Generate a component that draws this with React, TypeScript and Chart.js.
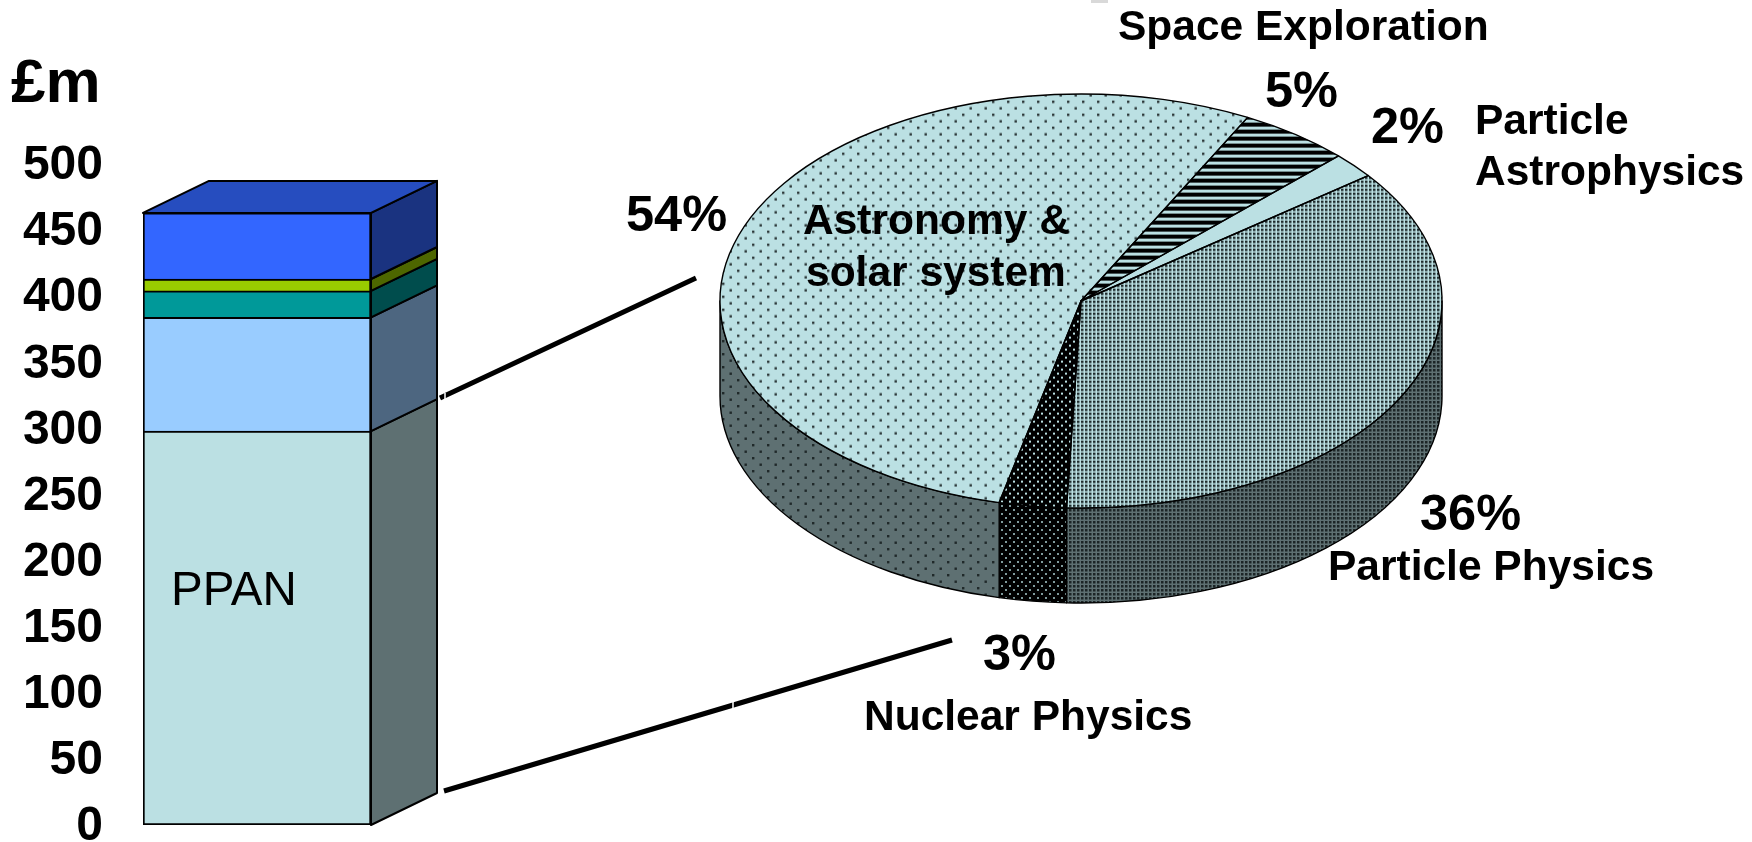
import React, { useEffect, useRef } from "react";
import { Chart, registerables } from "chart.js";

Chart.register(...registerables);

const W = 1752;
const H = 842;
const FONT = '"Liberation Sans", Arial, sans-serif';

// ---- stacked column data (£m) ----
const barCategories = ["PPAN"];
const ppanValues = [298];
const lightBlueValues = [86];
const tealValues = [20];
const limeValues = [9];
const blueValues = [50];
const segmentColors = ["#BBE0E3", "#99CCFF", "#009999", "#99CC00", "#3366FF"];
const yTickStep = 50;
const yMax = 500;

// ---- pie data (%) ----
const sliceNames = ["Space Exploration", "Particle Astrophysics", "Particle Physics", "Nuclear Physics", "Astronomy & solar system"];
const slicePercents = [5, 2, 36, 3, 54];

const shade = (hex: string, f: number) => {
  const n = parseInt(hex.slice(1), 16);
  const c = [(n >> 16) & 255, (n >> 8) & 255, n & 255].map((v) => Math.round(v * f));
  return `rgb(${c[0]},${c[1]},${c[2]})`;
};

function tile(w: number, h: number, bg: string, draw: (c: CanvasRenderingContext2D) => void, yScale = 1) {
  const cv = document.createElement("canvas");
  cv.width = w;
  cv.height = h;
  const c = cv.getContext("2d")!;
  c.fillStyle = bg;
  c.fillRect(0, 0, w, h);
  draw(c);
  const p = c.createPattern(cv, "repeat")!;
  if (yScale !== 1) p.setTransform(new DOMMatrix([1, 0, 0, yScale, 0, 0]));
  return p;
}

const dot = (c: CanvasRenderingContext2D, x: number, y: number, s: number, col: string) => {
  c.fillStyle = col;
  c.fillRect(x, y, s, s);
};

function patterns(bg: string, yScale: number, isWall: boolean) {
  const ink = isWall ? "#20292a" : "#2b3637";
  const sparse = tile(15, 13, bg, (c) => {
    dot(c, 2, 2, 2.4, ink);
    dot(c, 9.5, 8.5, 2.4, ink);
  }, yScale);
  const dense = tile(4, 4, bg, (c) => dot(c, 1, 1, 2.5, isWall ? "#1c2526" : "#1f2b2c"), yScale);
  const holes = tile(8, 8, "#000000", (c) => {
    dot(c, 1, 1, 2, isWall ? "#7f9a9c" : bg);
    dot(c, 5, 5, 2, isWall ? "#7f9a9c" : bg);
  }, yScale);
  const stripes = tile(8, 7, bg, (c) => {
    c.fillStyle = "#000";
    c.fillRect(0, 0, 8, 4);
  }, yScale);
  return { sparse, dense, holes, stripes };
}

export default function App() {
  const barRef = useRef<HTMLCanvasElement>(null);
  const pieRef = useRef<HTMLCanvasElement>(null);

  useEffect(() => {
    document.body.style.margin = "0";

    const DX = 66;
    const DY = 32;
    const seriesValues = [ppanValues, lightBlueValues, tealValues, limeValues, blueValues];

    const boxPlugin = {
      id: "box3d",
      beforeDatasetsDraw(chart: any) {
        const ctx = chart.ctx;
        ctx.save();
        ctx.lineWidth = 2;
        ctx.strokeStyle = "#000";
        ctx.lineJoin = "round";
        const n = chart.data.datasets.length;
        for (let i = 0; i < n; i++) {
          const el = chart.getDatasetMeta(i).data[0];
          const right = el.x + el.width / 2;
          const left = el.x - el.width / 2;
          ctx.beginPath();
          ctx.moveTo(right, el.y);
          ctx.lineTo(right + DX, el.y - DY);
          ctx.lineTo(right + DX, el.base - DY);
          ctx.lineTo(right, el.base);
          ctx.closePath();
          ctx.fillStyle = shade(segmentColors[i], 0.5);
          ctx.fill();
          ctx.stroke();
          if (i === n - 1) {
            ctx.beginPath();
            ctx.moveTo(left, el.y);
            ctx.lineTo(left + DX, el.y - DY);
            ctx.lineTo(right + DX, el.y - DY);
            ctx.lineTo(right, el.y);
            ctx.closePath();
            ctx.fillStyle = shade(segmentColors[i], 0.75);
            ctx.fill();
            ctx.stroke();
          }
        }
        ctx.restore();
      },
      afterDraw(chart: any) {
        const ctx = chart.ctx;
        ctx.save();
        ctx.fillStyle = "#000";
        ctx.textBaseline = "alphabetic";
        ctx.textAlign = "left";
        ctx.font = `bold 62px ${FONT}`;
        ctx.fillText("£m", 11, 102);
        ctx.font = `47.5px ${FONT}`;
        ctx.fillText(barCategories[0], 171, 605);
        // leader lines
        ctx.strokeStyle = "#000";
        ctx.lineWidth = 5;
        ctx.beginPath();
        ctx.moveTo(440, 398);
        ctx.lineTo(696, 278);
        ctx.moveTo(444, 791);
        ctx.lineTo(952, 640);
        ctx.stroke();
        ctx.strokeStyle = "#fff";
        ctx.lineWidth = 1.5;
        ctx.beginPath();
        ctx.moveTo(445, 393);
        ctx.lineTo(445, 400);
        ctx.moveTo(733, 702);
        ctx.lineTo(733, 710);
        ctx.stroke();
        ctx.restore();
      },
    };

    const barChart = new Chart(barRef.current!, {
      type: "bar",
      data: {
        labels: barCategories,
        datasets: seriesValues.map((v, i) => ({
          label: i === 0 ? barCategories[0] : `Segment ${i + 1}`,
          data: v,
          backgroundColor: segmentColors[i],
          borderColor: "#000",
          borderSkipped: false,
          borderWidth: { top: 2, left: 2, right: 2, bottom: i === 0 ? 2 : 0 },
          barPercentage: 1,
          categoryPercentage: 1,
        })),
      },
      options: {
        animation: false,
        responsive: false,
        layout: { padding: { left: 0, right: W - 371, top: 164, bottom: H - 825 } },
        plugins: { legend: { display: false }, tooltip: { enabled: false } },
        scales: {
          x: { stacked: true, display: false },
          y: {
            stacked: true,
            min: 0,
            max: yMax,
            grid: { display: false, drawTicks: false },
            border: { display: false },
            ticks: {
              stepSize: yTickStep,
              color: "#000",
              padding: 40,
              labelOffset: 2,
              font: { family: FONT, weight: "bold", size: 48 },
            },
            afterFit: (s: any) => {
              s.width = 143;
              s.paddingTop = 0;
              s.paddingBottom = 0;
            },
          },
        },
      },
      plugins: [boxPlugin],
    } as any);

    // ---- pie ----
    const TARGET_CY = 301;
    const RY = 207;
    const RX = 361;
    const DEPTH = 95;
    const K = RY / RX;
    const base = "#BBE0E3";
    const wallBase = shade(base, 0.5);
    const topP = patterns(base, 1 / K, false);
    const wallP = patterns(wallBase, 1, true);
    const topFill = [topP.stripes, base, topP.dense, topP.holes, topP.sparse];
    const wallFill = [wallP.stripes, wallBase, wallP.dense, wallP.holes, wallP.sparse];

    const piePlugin = {
      id: "pie3d",
      beforeDatasetsDraw(chart: any) {
        const ctx = chart.ctx;
        const arcs = chart.getDatasetMeta(0).data;
        ctx.save();
        ctx.lineWidth = 1.4;
        ctx.strokeStyle = "#000";
        ctx.lineJoin = "round";
        arcs.forEach((el: any, i: number) => {
          const a0 = Math.max(el.startAngle, 0);
          const a1 = Math.min(el.endAngle, Math.PI);
          if (a1 <= a0) return;
          ctx.beginPath();
          ctx.ellipse(el.x, TARGET_CY, el.outerRadius, el.outerRadius * K, 0, a0, a1);
          ctx.ellipse(el.x, TARGET_CY + DEPTH, el.outerRadius, el.outerRadius * K, 0, a1, a0, true);
          ctx.closePath();
          ctx.fillStyle = wallFill[i];
          ctx.fill();
          ctx.stroke();
        });
        ctx.restore();
        const first = arcs[0];
        ctx.save();
        ctx.translate(first.x, TARGET_CY);
        ctx.scale(1, K);
        ctx.translate(-first.x, -first.y);
      },
      afterDatasetsDraw(chart: any) {
        const ctx = chart.ctx;
        ctx.restore();
        const arcs = chart.getDatasetMeta(0).data;
        ctx.save();
        ctx.lineWidth = 1.4;
        ctx.strokeStyle = "#000";
        ctx.lineJoin = "round";
        arcs.forEach((el: any) => {
          ctx.beginPath();
          ctx.moveTo(el.x, TARGET_CY);
          ctx.ellipse(el.x, TARGET_CY, el.outerRadius, el.outerRadius * K, 0, el.startAngle, el.endAngle);
          ctx.closePath();
          ctx.stroke();
        });
        ctx.restore();

        ctx.save();
        ctx.fillStyle = "#000";
        ctx.textBaseline = "alphabetic";
        ctx.textAlign = "left";
        const pct = (i: number, x: number, y: number) => ctx.fillText(`${slicePercents[i]}%`, x, y);
        ctx.font = `bold 50.5px ${FONT}`;
        pct(0, 1265, 107);
        pct(1, 1371, 143);
        pct(2, 1420, 530);
        pct(3, 983, 670);
        pct(4, 626, 231);
        ctx.font = `bold 42.5px ${FONT}`;
        ctx.fillText(sliceNames[0], 1118, 40);
        ctx.fillText("Particle", 1475, 134);
        ctx.fillText("Astrophysics", 1475, 185);
        ctx.fillText(sliceNames[2], 1328, 580);
        ctx.fillText(sliceNames[3], 864, 730);
        ctx.fillText("Astronomy &", 803, 234);
        ctx.fillText("solar system", 806, 286);
        ctx.fillStyle = "#d9d9d9";
        ctx.fillRect(1091, 0, 17, 3);
        ctx.restore();
      },
    };

    const pieChart = new Chart(pieRef.current!, {
      type: "pie",
      data: {
        labels: sliceNames,
        datasets: [
          {
            data: slicePercents,
            backgroundColor: topFill,
            borderWidth: 0,
            clip: false,
          },
        ],
      },
      options: {
        animation: false,
        responsive: false,
        rotation: 27.5,
        layout: { padding: { left: 1081 - RX, right: W - 1081 - RX, top: H / 2 - RX, bottom: H / 2 - RX } },
        plugins: { legend: { display: false }, tooltip: { enabled: false } },
      },
      plugins: [piePlugin],
    } as any);

    return () => {
      barChart.destroy();
      pieChart.destroy();
    };
  }, []);

  const style: React.CSSProperties = { position: "absolute", left: 0, top: 0, width: W, height: H };
  return (
    <div style={{ position: "fixed", left: 0, top: 0, width: W, height: H, background: "#fff", overflow: "hidden" }}>
      <canvas ref={barRef} width={W} height={H} style={style} />
      <canvas ref={pieRef} width={W} height={H} style={style} />
    </div>
  );
}
